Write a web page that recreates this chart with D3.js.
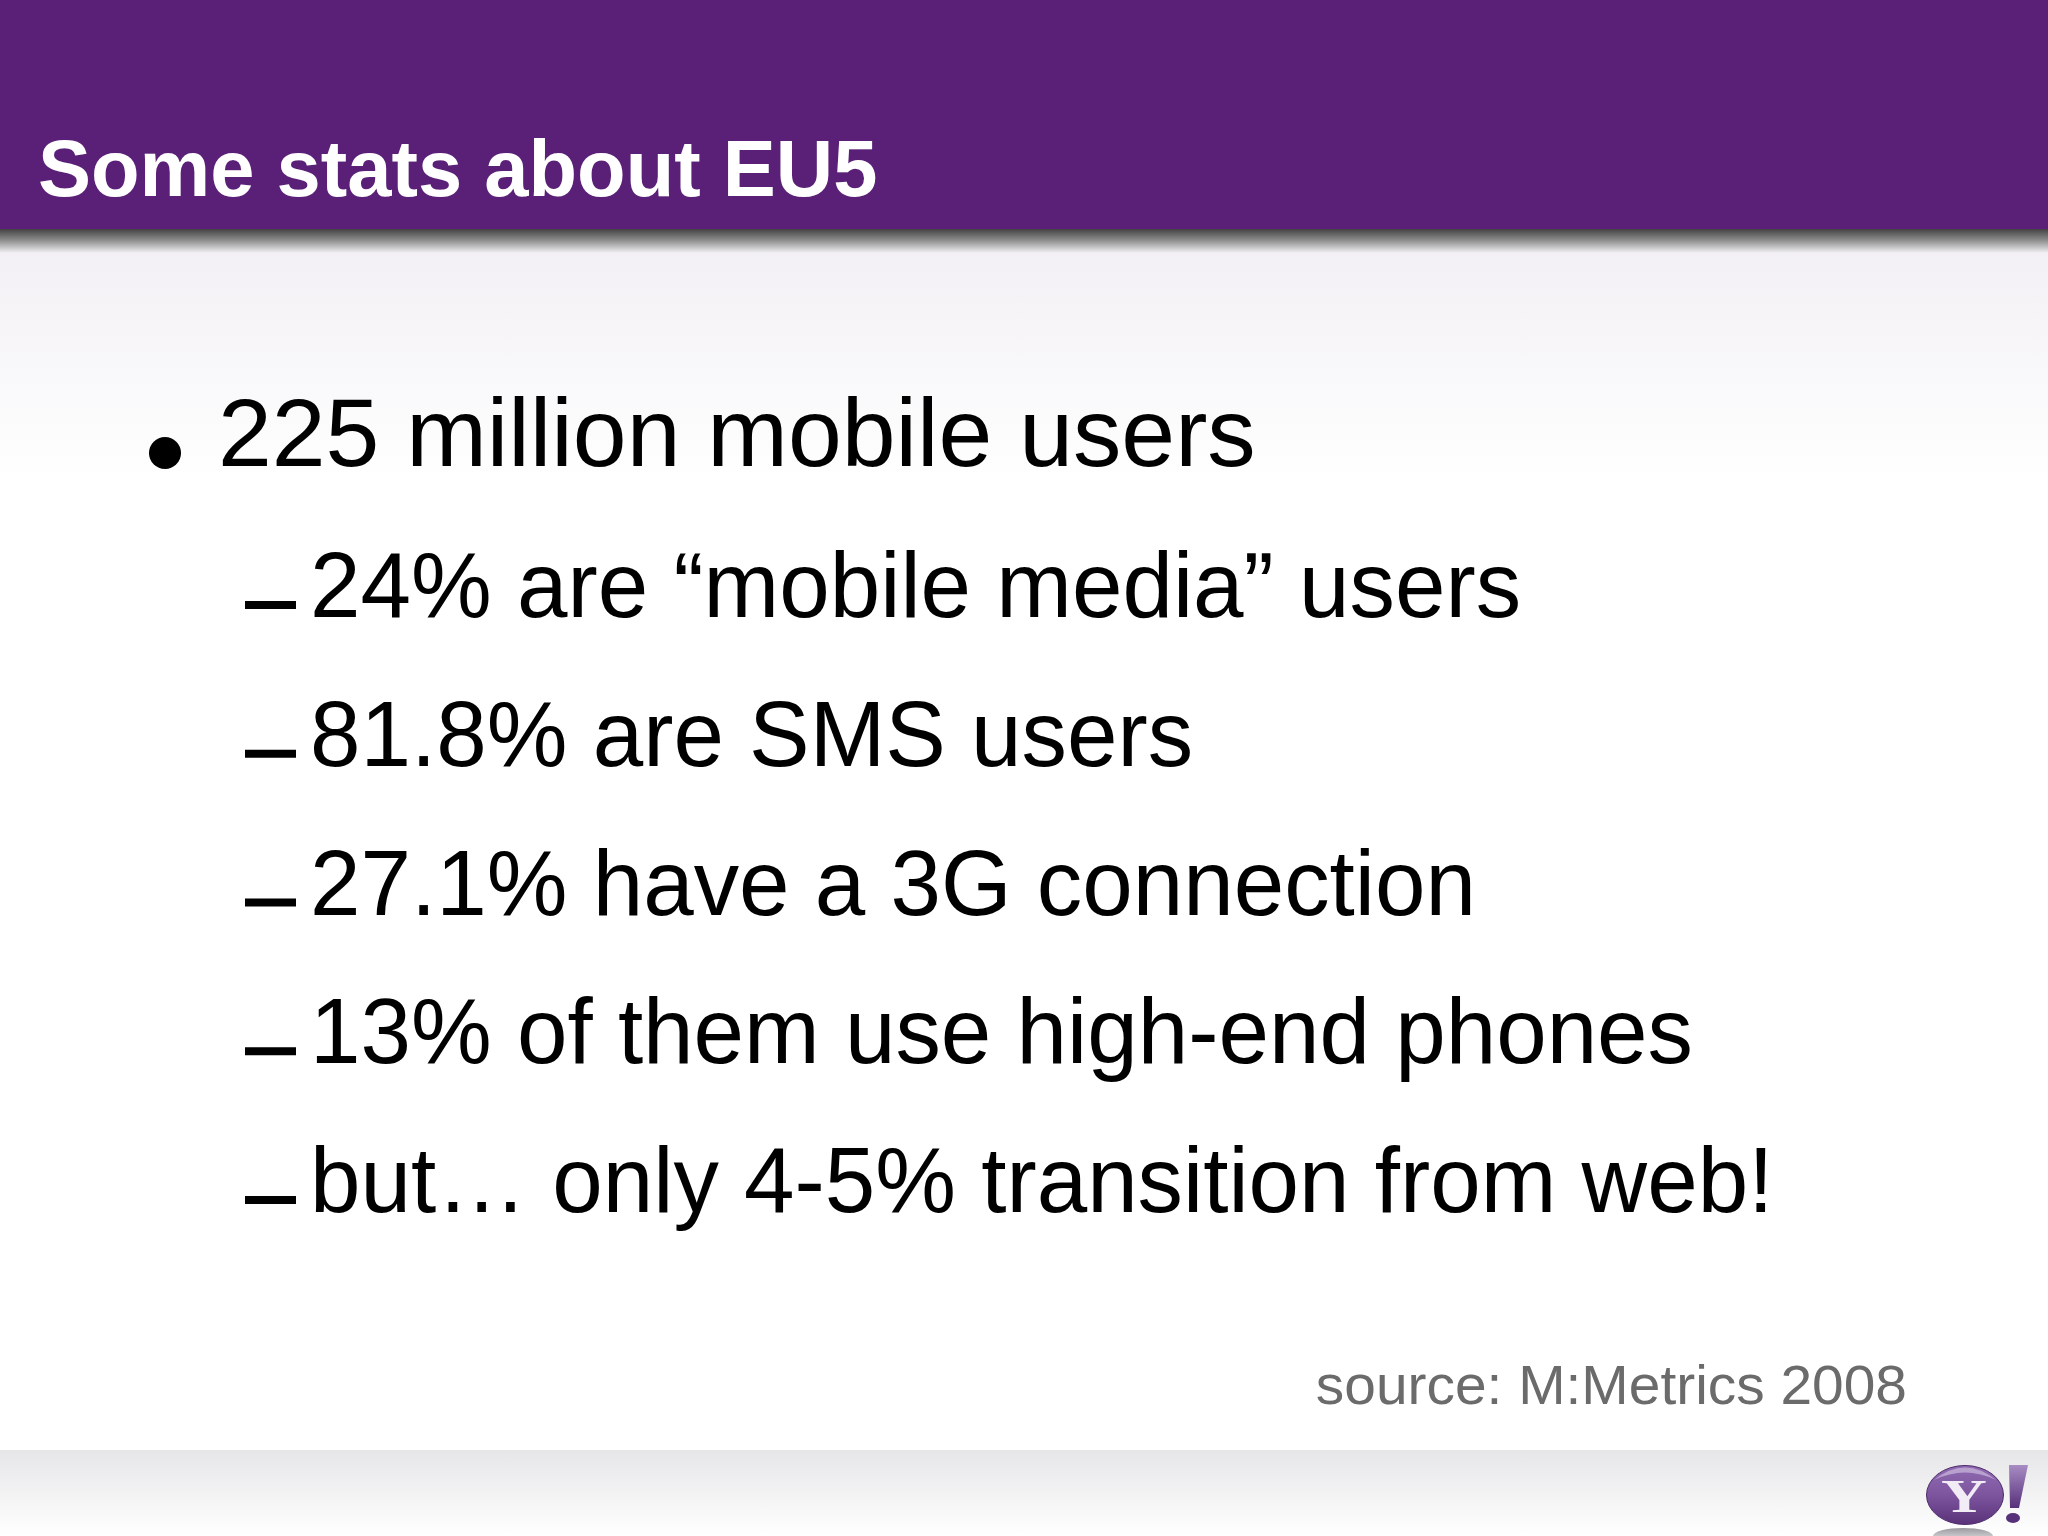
<!DOCTYPE html>
<html>
<head>
<meta charset="utf-8">
<script src="https://d3js.org/d3.v7.min.js"></script>
<style>
html, body { margin: 0; padding: 0; background: #fff; }
text { font-family: "Liberation Sans", Arial, sans-serif; }
</style>
</head>
<body>
<div id="slide"></div>
<script>
// slide content
const title = "Some stats about EU5"
const mainLines = ["225 million mobile users"]
const subLines = [
    "24% are \u201Cmobile media\u201D users",
    "81.8% are SMS users",
    "27.1% have a 3G connection",
    "13% of them use high-end phones",
    "but\u2026 only 4-5% transition from web!"
]
const source = "source: M:Metrics 2008"

const width = 2048
const height = 1536

const svg = d3.select("#slide").append("svg")
    .attr("width", width)
    .attr("height", height)
    .style("display", "block")

const defs = svg.append("defs")
const gradient = (id, stops) => {
    const g = defs.append("linearGradient").attr("id", id)
        .attr("x1", 0).attr("y1", 0).attr("x2", 0).attr("y2", 1)
    stops.forEach(s => g.append("stop").attr("offset", s[0]).attr("stop-color", s[1]))
}
gradient("bodyBg", [[0, "#f2f0f4"], [1, "#ffffff"]])
gradient("shadow", [[0, "#3c3c3c"], [0.5, "#8f8f8f"], [1, "#f2f0f4"]])
gradient("footBg", [[0, "#e6e6e8"], [1, "#ffffff"]])
gradient("ball", [[0, "#8f6bb0"], [0.5, "#7d559f"], [1, "#5a3279"]])
gradient("bang", [[0, "#a88cc4"], [1, "#57307a"]])
gradient("mirror", [[0, "#9a9a9f"], [1, "#f4f4f5"]])

// backgrounds
svg.append("rect").attr("width", width).attr("height", height).attr("fill", "#fff")
svg.append("rect").attr("y", 253).attr("width", width).attr("height", 230).attr("fill", "url(#bodyBg)")
svg.append("rect").attr("y", 228).attr("width", width).attr("height", 25).attr("fill", "url(#shadow)")
svg.append("rect").attr("width", width).attr("height", 229).attr("fill", "#5a2077")
svg.append("rect").attr("y", 1450).attr("width", width).attr("height", 86).attr("fill", "url(#footBg)")

svg.append("text")
    .attr("transform", "translate(38,196) scale(0.994,1)")
    .attr("font-size", 80).attr("font-weight", "bold").attr("fill", "#fff")
    .text(title)

// one row per line of the list, main bullet first
const rows = mainLines.map(t => ({ t, main: true })).concat(subLines.map(t => ({ t, main: false })))
const subY = d3.scalePoint().domain(subLines).range([617, 1212])
const rowY = d => d.main ? 466 : subY(d.t)

const row = svg.selectAll("g.row").data(rows).enter()
    .append("g").attr("class", "row")
    .attr("transform", d => `translate(0,${rowY(d)})`)

row.filter(d => d.main).append("circle")
    .attr("cx", 165).attr("cy", -13).attr("r", 16).attr("fill", "#000")
row.filter(d => !d.main).append("rect")
    .attr("x", 245).attr("y", -16).attr("width", 51).attr("height", 8).attr("fill", "#000")

// the reference type is a touch narrower than Liberation Sans
row.append("text")
    .attr("transform", d => d.main ? "translate(218,0) scale(0.9975,1)" : "translate(310,0) scale(0.987,1)")
    .attr("font-size", d => d.main ? 97 : 92)
    .attr("fill", "#000")
    .text(d => d.t)

svg.append("text")
    .attr("transform", "translate(1907,1404) scale(1.016,1)")
    .attr("text-anchor", "end").attr("font-size", 56).attr("fill", "#6b6b6b")
    .text(source)

// logo
const logo = svg.append("g")
logo.append("ellipse").attr("cx", 1963).attr("cy", 1536).attr("rx", 30).attr("ry", 8).attr("fill", "url(#mirror)")
logo.append("ellipse").attr("cx", 1965).attr("cy", 1495).attr("rx", 38.5).attr("ry", 29.5)
    .attr("fill", "url(#ball)").attr("stroke", "#4d2a6c").attr("stroke-width", 1)
logo.append("path").attr("d", "M1934,1480 Q1965,1455 1996,1480 Q1965,1465 1934,1480Z").attr("fill", "#b8a0cf")
logo.append("text")
    .attr("transform", "translate(1964,1512) scale(1.35,1)")
    .attr("text-anchor", "middle")
    .attr("font-size", 47).attr("font-weight", "bold").attr("fill", "#f1ecf5")
    .style("font-family", "'Liberation Serif', serif")
    .text("Y")
logo.append("path").attr("d", "M2009,1465 L2028,1465 L2019,1508 L2010,1508 Z").attr("fill", "url(#bang)")
logo.append("ellipse").attr("cx", 2013).attr("cy", 1518).attr("rx", 7).attr("ry", 5).attr("fill", "#57307a")
</script>
</body>
</html>
